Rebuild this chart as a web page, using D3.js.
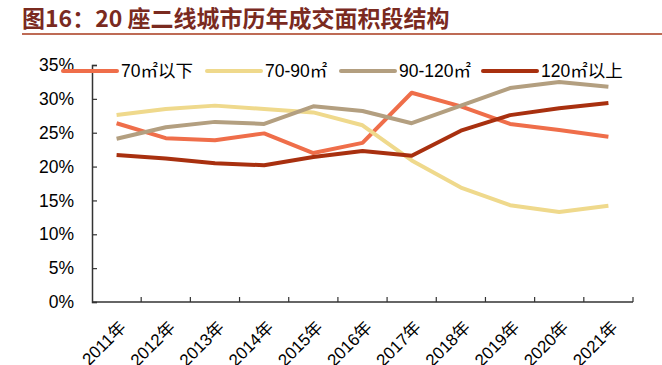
<!DOCTYPE html>
<html>
<head>
<meta charset="utf-8">
<script src="https://cdn.jsdelivr.net/npm/d3@7/dist/d3.min.js"></script>
<style>
  body { margin: 0; background: #fff; }
  svg { display: block; font-family: 'Liberation Sans', Arial, 'Noto Sans CJK SC', sans-serif; }
</style>
</head>
<body>
<svg width="662" height="365"></svg>
<script>
const years = ['2011年', '2012年', '2013年', '2014年', '2015年', '2016年', '2017年', '2018年', '2019年', '2020年', '2021年'];
const seriesNames = ['70㎡以下', '70-90㎡', '90-120㎡', '120㎡以上'];
const below70 = [26.4, 24.2, 23.9, 24.9, 22.0, 23.5, 30.9, 28.9, 26.3, 25.4, 24.4];
const from70to90 = [27.6, 28.5, 29.0, 28.5, 28.0, 26.1, 20.9, 16.9, 14.3, 13.3, 14.2];
const from90to120 = [24.1, 25.8, 26.6, 26.3, 28.9, 28.2, 26.4, 29.0, 31.6, 32.5, 31.8];
const above120 = [21.7, 21.2, 20.5, 20.2, 21.4, 22.3, 21.6, 25.3, 27.6, 28.6, 29.4];
const yTicks = [0, 5, 10, 15, 20, 25, 30, 35];

const colors = ['#ef6e4a', '#efd98c', '#b39f80', '#a8300f'];
const series = [below70, from70to90, from90to120, above120];

const svg = d3.select('svg');
const margin = { left: 92, right: 29, top: 65, bottom: 63 };
const width = 662, height = 365;

// title
svg.append('text')
  .attr('x', 22)
  .attr('y', 27)
  .attr('fill', '#7a2a1f')
  .attr('font-size', 23)
  .attr('font-weight', 'bold')
  .attr('font-family', "'Noto Sans CJK SC', sans-serif")
  .text('图16：20 座二线城市历年成交面积段结构');

svg.append('line')
  .attr('x1', 22).attr('x2', 662)
  .attr('y1', 34).attr('y2', 34)
  .attr('stroke', '#a83a1c')
  .attr('stroke-width', 1.5);

const x = d3.scaleBand()
  .domain(years)
  .range([margin.left, width - margin.right]);

const y = d3.scaleLinear()
  .domain([0, 35])
  .range([height - margin.bottom, margin.top]);

// y axis
const yAxis = svg.append('g')
  .attr('transform', 'translate(' + margin.left + ',0)')
  .call(d3.axisRight(y).tickValues(yTicks).tickSize(5).tickFormat(d => d + '%'));
yAxis.select('.domain').attr('stroke', '#333').attr('stroke-width', 1.5);
yAxis.selectAll('.tick line').attr('stroke', '#333').attr('stroke-width', 1.2);
yAxis.selectAll('.tick text')
  .attr('x', -18)
  .attr('text-anchor', 'end')
  .attr('font-size', 17.5)
  .attr('font-family', "'Liberation Sans', Arial, sans-serif")
  .attr('fill', '#000');

// x axis
const xTickPos = years.map(d => x(d)).concat([width - margin.right]);
const xAxis = svg.append('g')
  .attr('transform', 'translate(0,' + (height - margin.bottom) + ')');
xAxis.append('line')
  .attr('x1', margin.left).attr('x2', width - margin.right)
  .attr('stroke', '#333').attr('stroke-width', 1.5);
xAxis.selectAll('line.tk')
  .data(xTickPos.slice(1))
  .enter().append('line')
  .attr('class', 'tk')
  .attr('x1', d => d).attr('x2', d => d)
  .attr('y1', 0).attr('y2', -5)
  .attr('stroke', '#333').attr('stroke-width', 1.2);
xAxis.selectAll('text')
  .data(years)
  .enter().append('text')
  .attr('transform', d => 'translate(' + (x(d) + x.bandwidth() / 2 + 2) + ',18) rotate(-45)')
  .attr('text-anchor', 'end')
  .attr('dy', '0.7em')
  .attr('font-size', 17)
  .attr('fill', '#000')
  .text(d => d);

// lines
const line = d3.line()
  .x((d, i) => x(years[i]) + x.bandwidth() / 2)
  .y(d => y(d));

svg.append('g')
  .selectAll('path')
  .data(series)
  .enter().append('path')
  .attr('d', line)
  .attr('fill', 'none')
  .attr('stroke', (d, i) => colors[i])
  .attr('stroke-width', 4)
  .attr('stroke-linejoin', 'round');

// legend
const legendX = [63, 207, 341, 483];
const legend = svg.append('g')
  .selectAll('g')
  .data(seriesNames)
  .enter().append('g')
  .attr('transform', (d, i) => 'translate(' + legendX[i] + ',71)');

legend.append('line')
  .attr('x1', 0).attr('x2', 54)
  .attr('stroke', (d, i) => colors[i])
  .attr('stroke-width', 4)
  .attr('stroke-linecap', 'round');

legend.append('text')
  .attr('x', 58)
  .attr('dy', '0.35em')
  .attr('font-size', 17.5)
  .attr('fill', '#000')
  .text(d => d);
</script>
</body>
</html>
